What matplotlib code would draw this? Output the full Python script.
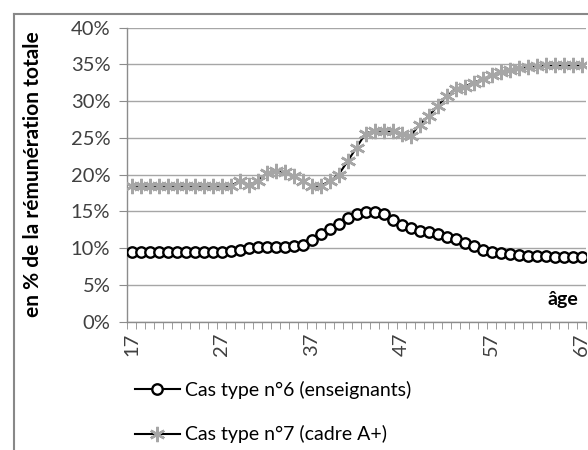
import numpy as np
import matplotlib
matplotlib.use("Agg")
import matplotlib.pyplot as plt
from matplotlib.lines import Line2D

plt.rcParams['font.family'] = ['Lato', 'DejaVu Sans']

# ages 17 to 67 (one category per year)
ages = np.arange(17, 68)

# % de la rémunération totale
enseignants = [9.5, 9.5, 9.5, 9.5, 9.5, 9.5, 9.5, 9.5, 9.5, 9.5, 9.5,
               9.6, 9.8, 10.0, 10.1, 10.15, 10.2, 10.2, 10.3, 10.5,
               11.1, 11.9, 12.6, 13.3, 14.1, 14.6, 14.95, 14.9, 14.6,
               13.8, 13.1, 12.7, 12.4, 12.2, 12.0, 11.5, 11.2, 10.7,
               10.3, 9.8, 9.5, 9.3, 9.2, 9.1, 9.0, 8.9, 8.9, 8.8, 8.8,
               8.8, 8.8]
cadre_a_plus = [18.5, 18.5, 18.5, 18.5, 18.5, 18.5, 18.5, 18.5, 18.5, 18.5,
                18.5, 18.5, 19.1, 18.6, 19.1, 20.2, 20.5, 20.4, 19.8, 19.1,
                18.5, 18.5, 19.1, 20.0, 21.8, 23.7, 25.6, 26.0, 26.0, 25.9,
                25.6, 25.3, 26.8, 28.0, 29.3, 30.7, 31.7, 32.0, 32.5, 33.0,
                33.5, 34.0, 34.3, 34.5, 34.7, 34.8, 34.9, 34.9, 34.9, 34.9,
                34.9]

label_6 = 'Cas type n°6 (enseignants)'
label_7 = 'Cas type n°7 (cadre A+)'
xtick_ages = [17, 27, 37, 47, 57, 67]
yticks = [0, 5, 10, 15, 20, 25, 30, 35, 40]

grey = '#8c8c8c'
text_col = '#404040'

fig = plt.figure(figsize=(5.88, 4.5), dpi=100)
ax = fig.add_axes([127 / 588, 1 - 321.7 / 450, (586 - 127) / 588, (321.7 - 27.7) / 450])

ax.plot(ages, enseignants, color='black', lw=1.5, marker='o', markersize=7.5,
        markerfacecolor='white', markeredgecolor='black', markeredgewidth=1.7,
        label=label_6, zorder=3)
ax.plot(ages, cadre_a_plus, color='black', lw=1.5, marker=(6, 2, 0), markersize=11,
        markeredgecolor='#a6a6a6', markeredgewidth=1.8,
        label=label_7, zorder=3)

ax.set_xlim(16.5, 67.5)
ax.set_ylim(0, 40)
ax.set_yticks(yticks)
ax.set_yticklabels([f'{v}%' for v in yticks], fontsize=14.5, color=text_col)
ax.set_xticks(xtick_ages)
ax.set_xticklabels([str(a) for a in xtick_ages], rotation=90, fontsize=14.5, color=text_col)
ax.set_xticks(np.arange(16.5, 68, 1), minor=True)
ax.tick_params(axis='x', which='major', length=0, pad=8)
ax.tick_params(axis='x', which='minor', length=5, color=grey, direction='out')
ax.tick_params(axis='y', length=6, color=grey, pad=6)

ax.grid(axis='y', color='#a6a6a6', lw=1)
ax.set_axisbelow(True)
for s in ['top', 'right']:
    ax.spines[s].set_visible(False)
for s in ['left', 'bottom']:
    ax.spines[s].set_color(grey)
    ax.spines[s].set_linewidth(1)

fig.text(33 / 588, 1 - 174 / 450, 'en % de la rémunération totale', rotation=90,
         fontsize=15, fontweight='bold', ha='center', va='center')
fig.text(563 / 588, 1 - 299 / 450, 'âge', fontsize=14, fontweight='bold',
         ha='center', va='center')

# chart area border (cropped on right and bottom)
fig.add_artist(Line2D([14 / 588, 1], [1 - 13.5 / 450, 1 - 13.5 / 450],
                      color='#888888', lw=1.5, transform=fig.transFigure))
fig.add_artist(Line2D([14 / 588, 14 / 588], [0, 1 - 13.5 / 450],
                      color='#888888', lw=1.5, transform=fig.transFigure))

fig.legend(loc='upper left', bbox_to_anchor=(135 / 588, 1 - 381 / 450),
           frameon=False, numpoints=1, fontsize=14, handlelength=2.3,
           handletextpad=0.25, labelspacing=1.35, borderpad=0, borderaxespad=0)

fig.savefig('out.png', dpi=100)
